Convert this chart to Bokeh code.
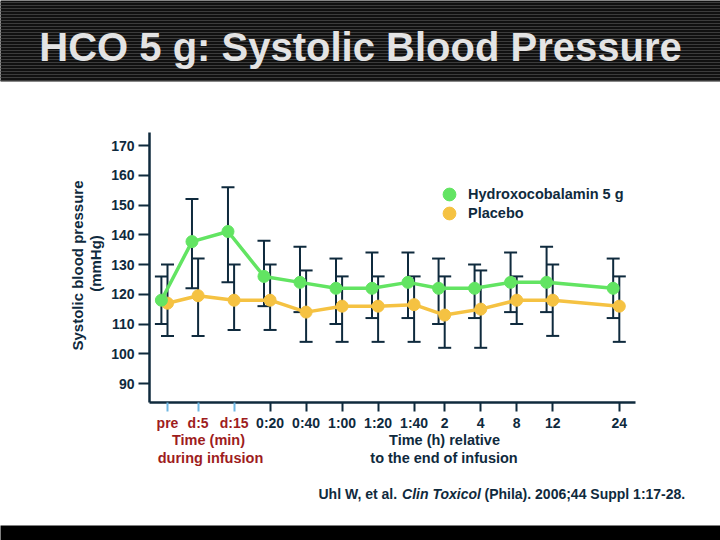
import math
from bokeh.plotting import figure
from bokeh.models import (ColumnDataSource, Range1d, FixedTicker, Whisker, TeeHead,
                          Label, BoxAnnotation, Legend, LegendItem, LinearAxis)
from bokeh.transform import dodge
from bokeh.embed import file_html
from bokeh.resources import INLINE

# ---------------- data ----------------
time_labels = ["pre", "d:5", "d:15", "0:20", "0:40", "1:00", "1:20", "1:40",
               "2", "4", "8", "12", "24"]
x_pos = [0.5, 1.35, 2.35, 3.35, 4.35, 5.35, 6.35, 7.35, 8.2, 9.2, 10.2, 11.2, 13.05]

hco_mean = [118, 137.7, 141.1, 126, 124, 122, 122, 124, 122, 122, 124, 124, 122]
hco_upper = [126, 152, 156, 138, 136, 132, 134, 134, 132, 130, 134, 136, 132]
hco_lower = [110, 122, 124, 116, 114, 110, 112, 112, 110, 112, 114, 114, 112]

pla_mean = [117, 119.5, 118, 118, 114, 116, 116, 116.5, 113, 115, 118, 118, 116]
pla_upper = [130, 132, 130, 130, 128, 126, 126, 126, 126, 128, 126, 130, 126]
pla_lower = [106, 106, 108, 108, 104, 104, 104, 104, 102, 102, 110, 106, 104]

y_ticks = [90, 100, 110, 120, 130, 140, 150, 160, 170]

# ---------------- style ----------------
NAVY = "#0f2a3d"
RED = "#9e1d1d"
BLUE = "#6fb7e2"
GREEN = "#62e462"
YELLOW = "#f5c242"
FONT = "Liberation Sans"

# axis extents (data units)
Y_LO, Y_HI = 83.61, 174.37
X_LO, X_HI = 0.0, 13.5

src = ColumnDataSource(dict(x=x_pos, hm=hco_mean, hu=hco_upper, hl=hco_lower,
                            pm=pla_mean, pu=pla_upper, pl=pla_lower))

p = figure(width=720, height=540, output_backend="svg", toolbar_location=None,
           x_range=Range1d(-4.139, 15.861), y_range=Range1d(37.23, 218.74),
           min_border_left=0, min_border_right=0, min_border_top=0,
           min_border_bottom=0)
p.outline_line_color = None
p.xgrid.grid_line_color = None
p.ygrid.grid_line_color = None
p.background_fill_color = "white"
p.border_fill_color = "white"


def style_axis(ax):
    ax.axis_line_color = NAVY
    ax.axis_line_width = 2.5
    ax.major_tick_line_color = NAVY
    ax.major_tick_line_width = 2
    ax.major_tick_in = 0
    ax.minor_tick_line_color = None
    ax.major_label_text_color = NAVY
    ax.major_label_text_font = FONT
    ax.major_label_text_font_style = "bold"
    ax.major_label_text_font_size = "14px"


yax = p.yaxis[0]
style_axis(yax)
yax.fixed_location = X_LO
yax.bounds = (Y_LO, Y_HI)
yax.ticker = FixedTicker(ticks=y_ticks)
yax.major_tick_out = 11
yax.major_label_standoff = 4

xax = p.xaxis[0]
style_axis(xax)
post = x_pos[3:]
xax.fixed_location = Y_LO
xax.bounds = (X_LO, X_HI)
xax.ticker = FixedTicker(ticks=post)
xax.major_label_overrides = {x: l for x, l in zip(post, time_labels[3:])}
xax.major_tick_out = 9
xax.major_label_standoff = 3

# in-infusion ticks (light blue) with red labels
pre_ax = LinearAxis(fixed_location=Y_LO, ticker=FixedTicker(ticks=x_pos[:3]))
style_axis(pre_ax)
pre_ax.axis_line_color = None
pre_ax.major_tick_line_color = BLUE
pre_ax.major_tick_out = 9
pre_ax.major_label_standoff = 3
pre_ax.major_label_text_color = RED
pre_ax.major_label_overrides = {x: l for x, l in zip(x_pos[:3], time_labels[:3])}
p.add_layout(pre_ax, "below")

# error bars
def whisk(base, up, lo):
    return Whisker(source=src, base=base, upper=up, lower=lo, dimension="height",
                   line_color=NAVY, line_width=2, level="underlay",
                   upper_head=TeeHead(size=13, line_color=NAVY, line_width=2),
                   lower_head=TeeHead(size=13, line_color=NAVY, line_width=2))

gx = dodge("x", -0.17, range=p.x_range)
p.add_layout(whisk("x", "pu", "pl"))
p.add_layout(whisk(gx, "hu", "hl"))

# series
p.line(x="x", y="pm", source=src, line_color=YELLOW, line_width=3.5)
rp = p.scatter(x="x", y="pm", source=src, size=12, fill_color=YELLOW, line_color=YELLOW)
p.line(x=gx, y="hm", source=src, line_color=GREEN, line_width=3.5)
rg = p.scatter(x=gx, y="hm", source=src, size=12, fill_color=GREEN, line_color=GREEN)

# legends
for item, loc in ((LegendItem(label="Hydroxocobalamin 5 g", renderers=[rg]), (433, 330)),
                  (LegendItem(label="Placebo", renderers=[rp]), (433, 311))):
    lg = Legend(items=[item], location=loc, glyph_width=32, glyph_height=32,
                label_standoff=3, padding=0, margin=0, border_line_color=None,
                background_fill_alpha=0, label_text_font=FONT,
                label_text_font_style="bold", label_text_font_size="14.5px",
                label_text_color=NAVY)
    p.add_layout(lg)

# header / footer bars
p.add_layout(BoxAnnotation(left=-5, right=725, bottom=459, top=545,
                           left_units="screen", right_units="screen",
                           bottom_units="screen", top_units="screen",
                           fill_color="#111111", fill_alpha=1, line_color=None,
                           hatch_pattern="horizontal_line", hatch_color="#3c3c3c",
                           hatch_scale=3, hatch_weight=1))
p.add_layout(BoxAnnotation(left=-5, right=725, bottom=-5, top=15,
                           left_units="screen", right_units="screen",
                           bottom_units="screen", top_units="screen",
                           fill_color="black", fill_alpha=1, line_color=None))


def lab(text, x, y, size, color=NAVY, style="bold", align="center", angle=0,
        baseline="middle"):
    p.add_layout(Label(x=x, y=y, x_units="screen", y_units="screen", text=text,
                       text_align=align, text_baseline=baseline, text_color=color,
                       text_font=FONT, text_font_style=style,
                       text_font_size=size, angle=angle))


lab("HCO 5 g: Systolic Blood Pressure", 360, 494, "40px", color="#e4e4e4")

lab("Systolic blood pressure", 77, 275, "15px", angle=math.pi / 2)
lab("(mmHg)", 95, 277, "15px", angle=math.pi / 2)

lab("Time (min)", 208, 101, "14.5px", color=RED)
lab("during infusion", 210, 83, "14.5px", color=RED)
lab("Time (h) relative", 444, 101, "14.5px")
lab("to the end of infusion", 443.5, 83, "14.5px")

lab("Uhl W, et al.", 318, 47, "14px", align="left")
lab("Clin Toxicol", 441, 47, "14px", style="bold italic")
lab("(Phila). 2006;44 Suppl 1:17-28.", 484, 47, "14px", align="left")

open("out.html", "w").write(file_html(p, INLINE))
